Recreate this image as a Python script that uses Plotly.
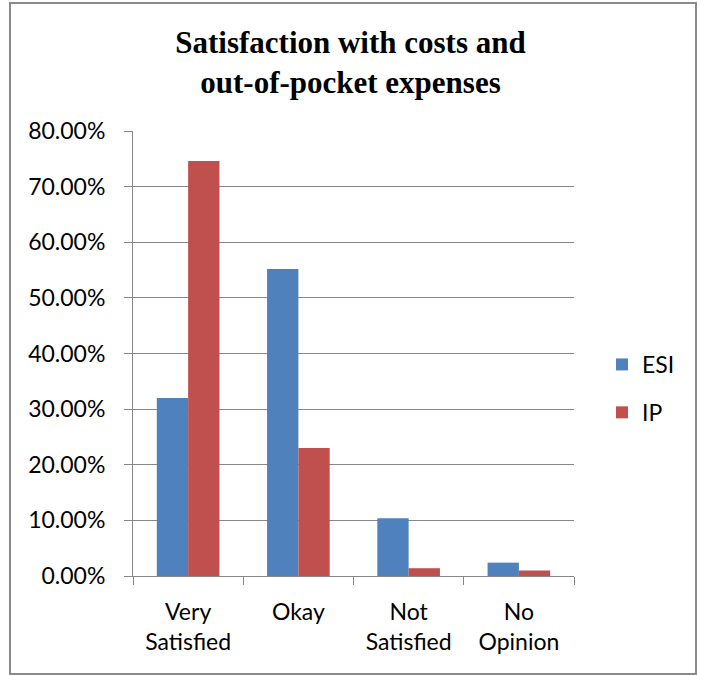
import plotly.graph_objects as go

categories = ["Very<br>Satisfied", "Okay", "Not<br>Satisfied", "No<br>Opinion"]
esi_values = [0.32, 0.552, 0.104, 0.024]
ip_values = [0.746, 0.23, 0.014, 0.010]
series_names = ["ESI", "IP"]
series_colors = ["#4F81BD", "#C0504D"]
y_ticks = [0, 0.1, 0.2, 0.3, 0.4, 0.5, 0.6, 0.7, 0.8]

W, H = 701, 675
L, R, T, B = 133, 127, 131, 99
pw, ph = W - L - R, H - T - B

label_font = dict(family="Lato, Liberation Sans, sans-serif", size=23, color="#000000")
grid = "#878787"

fig = go.Figure()
for name, vals, col in zip(series_names, [esi_values, ip_values], series_colors):
    fig.add_trace(go.Bar(x=categories, y=vals, name=name, marker=dict(color=col, line=dict(width=0)),
                         showlegend=False))
for i, (name, col) in enumerate(zip(series_names, series_colors)):
    fig.add_trace(go.Scatter(x=[None], y=[None], mode="markers", name=name,
                             marker=dict(symbol="square", size=15, color=col),
                             legendgroup=name))

def px_x(px):
    return (px - L) / pw

def px_y(py):
    return (H - B - py) / ph

fig.update_layout(
    width=W, height=H,
    margin=dict(l=L, r=R, t=T, b=B, pad=0),
    paper_bgcolor="white", plot_bgcolor="white",
    barmode="group", bargap=0.432, bargroupgap=0,
    title=dict(text="<b>Satisfaction with costs and<br>out-of-pocket expenses</b>",
               font=dict(family="Liberation Serif, Times New Roman, serif", size=31, color="#000000"),
               x=0.5, xref="container", xanchor="center",
               y=1 - 53 / H, yref="container", yanchor="middle"),
    xaxis=dict(type="category", tickson="boundaries", ticks="outside", ticklen=8, tickcolor=grid,
               tickwidth=1, showline=True, linecolor=grid, linewidth=1, showgrid=False,
               tickfont=label_font, ticklabelstandoff=15),
    yaxis=dict(range=[0, 0.8], tickvals=y_ticks, tickformat=".2%", ticks="outside", ticklen=8,
               tickcolor=grid, tickwidth=1, showline=True, linecolor=grid, linewidth=1,
               showgrid=True, gridcolor=grid, gridwidth=1, zeroline=False,
               tickfont=label_font, ticklabelstandoff=14),
    legend=dict(x=px_x(602), y=px_y(343), xanchor="left", yanchor="top",
                font=label_font, tracegroupgap=15, bgcolor="rgba(0,0,0,0)",
                itemsizing="constant"),
    font=label_font,
)

fig.add_shape(type="rect", xref="paper", yref="paper",
              x0=px_x(10), x1=px_x(696), y0=px_y(674), y1=px_y(3),
              line=dict(color="#8A8A8A", width=2), layer="below")

fig.write_html("out.html")
